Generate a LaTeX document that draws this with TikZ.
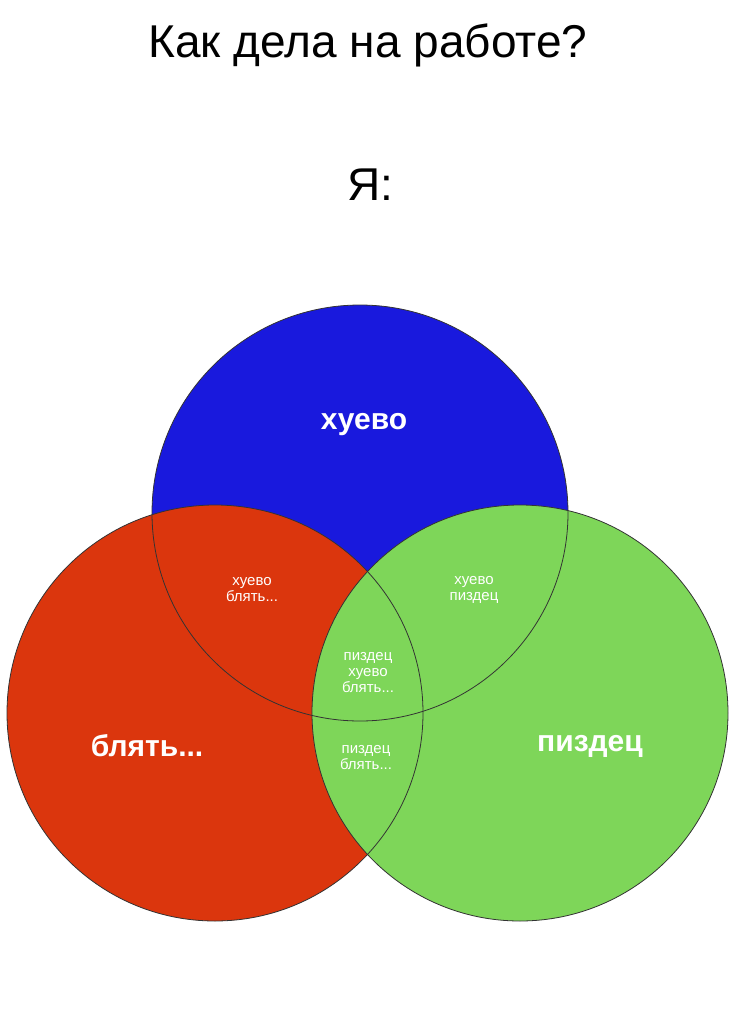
\documentclass[tikz,border=0pt]{standalone}
\usepackage{fontspec}
\setmainfont{Liberation Sans}
\begin{document}
\begin{tikzpicture}[x=1pt,y=-1pt,
  circ/.style={draw=black!80,line width=0.8pt},
  big/.style={text=white,font=\bfseries\fontsize{30}{32}\selectfont},
  small/.style={text=white,align=center,font=\fontsize{15}{16}\selectfont}]
\useasboundingbox[fill=white] (0,0) rectangle (736,1015);
\node (t) at (368,45) {\fontsize{46}{50}\selectfont Как дела на работе?};
\node (ya) at (370,185) {\fontsize{46}{50}\selectfont Я:};
\fill[blue!85!black!90] (360,513) coordinate (cb) circle (208);
\fill[red!60!orange!85!black!95] (215,713) coordinate (cr) circle (208);
\fill[green!60!lime!75!black!65!white] (520,713) coordinate (cg) circle (208);
\fill[blue!50!cyan!40!black] (cb) ++(0,0) circle (0);
\draw[circ] (cb) circle (208);
\draw[circ] (cr) circle (208);
\draw[circ] (cg) circle (208);
\node[big] (hb) at (364,425) {хуево};
\node[big] (bl) at (147,746) {блять...};
\node[big] (pz) at (590,746) {пиздец};
\node[small] (hbl) at (252,590) {хуево\\блять...};
\node[small] (hpz) at (474,590) {хуево\\пиздец};
\node[small] (all) at (368,673) {пиздец\\хуево\\блять...};
\node[small] (pbl) at (366,758) {пиздец\\блять...};
\end{tikzpicture}
\end{document}
